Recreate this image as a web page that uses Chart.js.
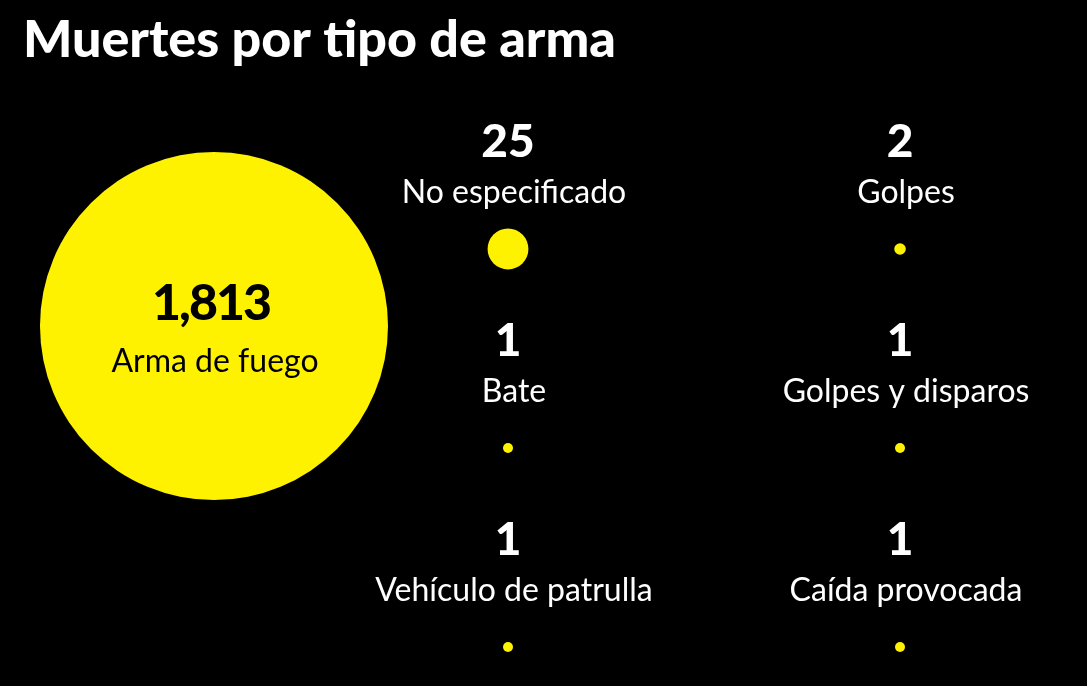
<!DOCTYPE html>
<html lang="es">
<head>
<meta charset="utf-8">
<title>Muertes por tipo de arma</title>
<script src="https://cdn.jsdelivr.net/npm/chart.js@4.4.1/dist/chart.umd.min.js"></script>
<style>
  html, body { margin: 0; padding: 0; background: #000; }
  #wrap { width: 1087px; height: 686px; position: relative; }
</style>
</head>
<body>
<div id="wrap"><canvas id="weapons-chart"></canvas></div>
<script>
// Datos: muertes por tipo de arma
const categories = ['Arma de fuego', 'No especificado', 'Golpes', 'Bate', 'Golpes y disparos', 'Vehículo de patrulla', 'Caída provocada'];
const deaths = [1813, 25, 2, 1, 1, 1, 1];

const YELLOW = '#fff200';
const NUM_FONT = "Lato, 'Liberation Sans', Arial, sans-serif";
const LABEL_FONT = "Lato, 'Liberation Sans', sans-serif";

// el primero va a la izquierda (grande), el resto en una rejilla de 2 columnas
const maxRadius = 174;
const points = deaths.map((v, i) => {
    const r = Math.max(5, maxRadius * Math.sqrt(v / deaths[0]));
    if (i === 0) return { x: 0.25, y: 0.387, r: r };
    const j = i - 1;
    return { x: 1 + (j % 2), y: Math.floor(j / 2), r: r };
});

// textos (valor + categoría) encima de cada burbuja
const bubbleLabels = {
    id: 'bubbleLabels',
    afterDatasetsDraw(chart) {
        const ctx = chart.ctx;
        const meta = chart.getDatasetMeta(0);
        ctx.save();
        ctx.textAlign = 'center';
        ctx.textBaseline = 'alphabetic';
        meta.data.forEach((el, i) => {
            const value = deaths[i].toLocaleString('en-US');
            if (i === 0) {
                ctx.fillStyle = '#000';
                ctx.font = `900 50px ${NUM_FONT}`;
                ctx.letterSpacing = '-2px';
                ctx.fillText(value, el.x - 3, el.y - 6);
                ctx.letterSpacing = '0px';
                ctx.font = `32px ${LABEL_FONT}`;
                ctx.fillText(categories[i], el.x + 1, el.y + 46);
            } else {
                ctx.fillStyle = '#fff';
                ctx.font = `900 46px ${NUM_FONT}`;
                ctx.fillText(value, el.x, el.y - 92);
                ctx.font = `32px ${LABEL_FONT}`;
                ctx.fillText(categories[i], el.x + 6, el.y - 46);
            }
        });
        ctx.restore();
    }
};

new Chart(document.getElementById('weapons-chart'), {
    type: 'bubble',
    data: {
        labels: categories,
        datasets: [{
            data: points,
            backgroundColor: YELLOW,
            borderWidth: 0,
            hoverBackgroundColor: YELLOW,
            clip: false
        }]
    },
    options: {
        responsive: true,
        maintainAspectRatio: false,
        animation: false,
        events: [],
        layout: { autoPadding: false, padding: { left: 23, right: 0, top: 0, bottom: 0 } },
        plugins: {
            legend: { display: false },
            tooltip: { enabled: false },
            title: {
                display: true,
                text: 'Muertes por tipo de arma',
                align: 'start',
                color: '#fff',
                font: { family: NUM_FONT, weight: 900, size: 52, lineHeight: '60px' },
                padding: { top: 10, bottom: 6 }
            }
        },
        scales: {
            x: { type: 'linear', display: false, min: -0.2372, max: 2.477 },
            y: { type: 'linear', display: false, reverse: true, min: -0.8693, max: 2.196 }
        }
    },
    plugins: [bubbleLabels]
});
</script>
</body>
</html>
